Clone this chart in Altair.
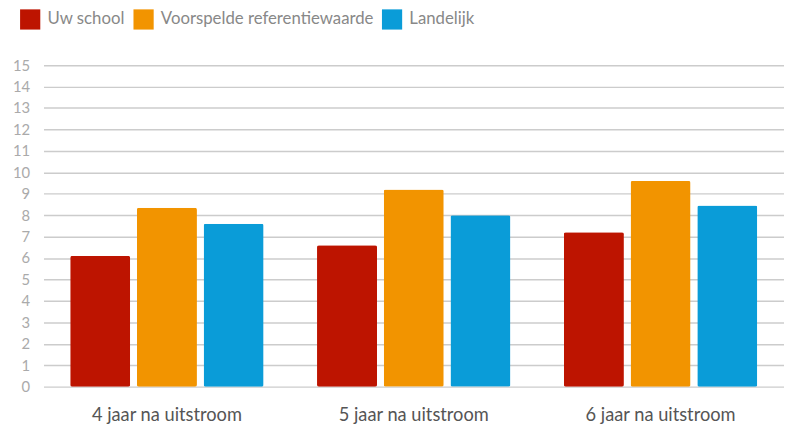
import altair as alt
import pandas as pd

categories = ["4 jaar na uitstroom", "5 jaar na uitstroom", "6 jaar na uitstroom"]
series = ["Uw school", "Voorspelde referentiewaarde", "Landelijk"]
uw_school = [6.1, 6.6, 7.2]
voorspeld = [8.35, 9.2, 9.6]
landelijk = [7.6, 8.0, 8.45]
colors = ["#BD1400", "#F29400", "#0A9CD8"]

rows = []
for s, vals in zip(series, [uw_school, voorspeld, landelijk]):
    for c, v in zip(categories, vals):
        rows.append({"categorie": c, "reeks": s, "waarde": v})
df = pd.DataFrame(rows)

font = "Lato"

chart = alt.Chart(df).mark_bar(cornerRadius=2).encode(
    x=alt.X("categorie:N", sort=categories, title=None,
            scale=alt.Scale(paddingInner=0, paddingOuter=0),
            axis=alt.Axis(labelAngle=0, labelFontSize=18.5, labelColor="#555555",
                          labelFont=font, domain=False, ticks=False, labelPadding=19)),
    xOffset=alt.XOffset("reeks:N", sort=series,
                        scale=alt.Scale(paddingInner=0.1, paddingOuter=0.4)),
    y=alt.Y("waarde:Q", title=None,
            scale=alt.Scale(domain=[0, 15], nice=False),
            axis=alt.Axis(values=list(range(0, 16)), labelFontSize=15, labelColor="#AAAAAA",
                          labelFont=font, domain=False, ticks=False, labelPadding=14,
                          gridColor="#CCCCCC", gridWidth=1.5)),
    color=alt.Color("reeks:N", sort=series,
                    scale=alt.Scale(domain=series, range=colors),
                    legend=alt.Legend(title=None, orient="none", direction="horizontal",
                                      legendX=-24, legendY=-57,
                                      symbolType="square", symbolSize=420,
                                      symbolStrokeWidth=0, symbolOpacity=1,
                                      labelFontSize=17, labelColor="#888888", labelLimit=0,
                                      labelFont=font, columnPadding=8, labelOffset=7)),
).properties(
    width=751, height=326, padding={"left": 4, "top": -2, "right": 0, "bottom": 5}
).configure_view(stroke=None)

chart.save("out.html", embed_options={"renderer": "svg", "actions": False})
